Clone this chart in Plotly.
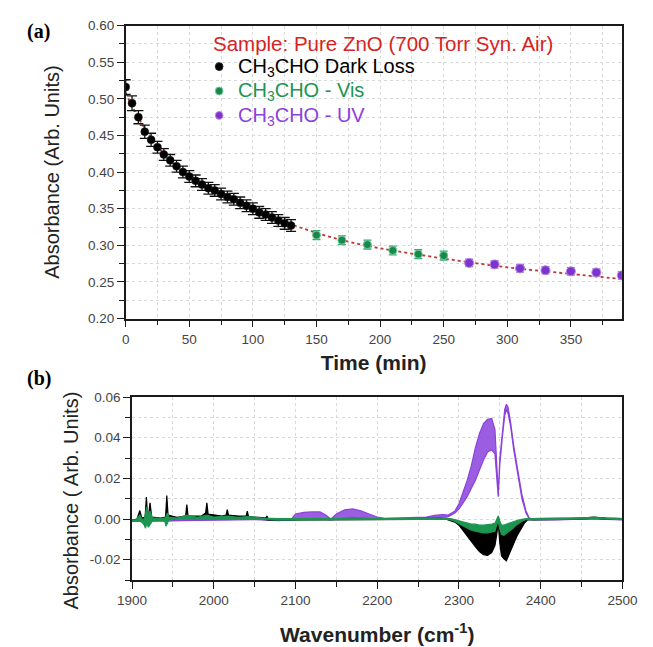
import plotly.graph_objects as go

# ---------------- Panel (a): kinetics data ----------------
t_dark = [0, 5, 10, 15, 20, 25, 30, 35, 40, 45, 50, 55, 60, 65, 70, 75, 80, 85, 90, 95,
          100, 105, 110, 115, 120, 125, 130]
a_dark = [0.516, 0.494, 0.475, 0.455, 0.444, 0.434, 0.424, 0.416, 0.408, 0.400, 0.394,
          0.388, 0.383, 0.378, 0.375, 0.370, 0.366, 0.363, 0.358, 0.354, 0.350, 0.345,
          0.342, 0.338, 0.334, 0.330, 0.327]
e_dark = [0.010, 0.010, 0.009, 0.009, 0.009, 0.008, 0.008, 0.008, 0.008, 0.008, 0.008,
          0.008, 0.008, 0.008, 0.008, 0.008, 0.008, 0.008, 0.008, 0.008, 0.008, 0.008,
          0.008, 0.008, 0.008, 0.008, 0.008]

t_vis = [150, 170, 190, 210, 230, 250]
a_vis = [0.314, 0.307, 0.301, 0.293, 0.288, 0.286]
e_vis = [0.006, 0.006, 0.006, 0.006, 0.006, 0.006]

t_uv = [270, 290, 310, 330, 350, 370, 390]
a_uv = [0.276, 0.274, 0.2685, 0.266, 0.2645, 0.263, 0.259]
e_uv = [0.005, 0.005, 0.005, 0.005, 0.005, 0.005, 0.005]

# fitted decay curve, sampled from the figure
t_fit = [0, 10, 20, 30, 40, 50, 60, 80, 100, 125, 150, 175, 200, 250, 300, 350, 390]
a_fit = [0.508, 0.474, 0.447, 0.425, 0.407, 0.393, 0.382, 0.364, 0.349, 0.332, 0.317,
         0.305, 0.296, 0.282, 0.270, 0.261, 0.254]

series_names = ["CH<sub>3</sub>CHO Dark Loss", "CH<sub>3</sub>CHO - Vis", "CH<sub>3</sub>CHO - UV"]
sample_label = "Sample: Pure ZnO (700 Torr Syn. Air)"

# ---------------- Panel (b): difference spectra (upper / lower envelope) ----------------
wn_uv = [1900, 1940, 1960, 2000, 2050, 2080, 2095, 2100, 2110, 2120, 2130, 2137, 2143, 2150,
         2160, 2170, 2180, 2190, 2200, 2210, 2240, 2260, 2270, 2280, 2287, 2295, 2300, 2305,
         2310, 2315, 2320, 2325, 2330, 2335, 2340, 2344, 2346, 2348, 2350, 2353, 2356, 2358,
         2360, 2363, 2367, 2372, 2377, 2382, 2386, 2390, 2420, 2450, 2470, 2500]
hi_uv = [-0.0008, -0.0005, -0.0003, 0.0, 0.0002, -0.0003, 0.0, 0.0025, 0.0033, 0.0035, 0.0035,
         0.002, 0.0, 0.0025, 0.0045, 0.005, 0.004, 0.0025, 0.001, 0.0003, 0.0005, 0.001, 0.0018,
         0.0022, 0.002, 0.004, 0.0075, 0.013, 0.019, 0.026, 0.035, 0.042, 0.047, 0.049, 0.0495,
         0.044, 0.03, 0.013, 0.03, 0.043, 0.054, 0.0565, 0.055, 0.048, 0.036, 0.024, 0.012,
         0.004, 0.0005, 0.0, 0.0, 0.0005, 0.0005, 0.0]
lo_uv = [-0.0012, -0.001, -0.0008, -0.0004, -0.0003, -0.0008, -0.0004, -0.0002, 0.0, 0.0, 0.0,
         -0.0002, -0.0004, 0.0, 0.0005, 0.0008, 0.0006, 0.0004, 0.0, -0.0002, 0.0, 0.0004,
         0.0008, 0.001, 0.0012, 0.003, 0.005, 0.008, 0.011, 0.015, 0.019, 0.024, 0.029, 0.033,
         0.034, 0.032, 0.022, 0.011, 0.027, 0.040, 0.051, 0.054, 0.052, 0.046, 0.034, 0.022,
         0.010, 0.003, 0.0, -0.0004, -0.0004, 0.0, 0.0, -0.0004]

wn_dark = [1900, 1906, 1909.5, 1912, 1916, 1917.5, 1919, 1920.5, 1922, 1924, 1935, 1941, 1942.5,
           1944, 1955, 1965.5, 1967, 1968.5, 1985, 1990, 1991.5, 1993, 2010, 2015, 2016.5, 2018,
           2030, 2039.5, 2041, 2042.5, 2055, 2063.5, 2065, 2066.5, 2080, 2100, 2150, 2200, 2250,
           2285, 2295, 2300, 2305, 2310, 2315, 2320, 2325, 2330, 2335, 2340, 2344, 2346, 2348,
           2350, 2352, 2355, 2358, 2361, 2364, 2368, 2372, 2376, 2380, 2384, 2390, 2420, 2450,
           2465, 2480, 2500]
hi_dark = [-0.0005, 0.0, 0.0042, 0.0005, 0.001, 0.0108, 0.002, 0.003, 0.008, 0.001, 0.0005,
           0.001, 0.0116, 0.002, 0.0008, 0.0015, 0.0071, 0.0015, 0.0015, 0.003, 0.008, 0.0025,
           0.0015, 0.002, 0.0047, 0.002, 0.0015, 0.0015, 0.0039, 0.0012, 0.0008, 0.0005, 0.0015,
           0.0, -0.0002, 0.0, 0.0, 0.0002, 0.0004, 0.0003, -0.0005, -0.0015, -0.0025, -0.0035,
           -0.004, -0.0045, -0.005, -0.005, -0.0045, -0.004, -0.0035, -0.002, 0.0008, -0.002,
           -0.005, -0.006, -0.006, -0.005, -0.004, -0.003, -0.002, -0.0012, -0.0004, 0.0002,
           0.0002, 0.0003, 0.0005, 0.001, 0.0005, 0.0003]
lo_dark = [-0.0012, -0.0008, -0.0005, -0.0005, -0.0003, 0.0, -0.0005, -0.0003, -0.0002, -0.0002,
           0.0, 0.0, 0.0, 0.0, 0.0003, 0.0005, 0.0005, 0.0005, 0.0006, 0.0008, 0.001, 0.0008,
           0.0006, 0.0008, 0.0008, 0.0008, 0.0006, 0.0005, 0.0005, 0.0004, 0.0, -0.0003, -0.0003,
           -0.0005, -0.0008, -0.0005, -0.0005, -0.0003, -0.0001, -0.0002, -0.0015, -0.003,
           -0.0055, -0.008, -0.011, -0.0135, -0.016, -0.0175, -0.0178, -0.0165, -0.013, -0.008,
           -0.002, -0.012, -0.018, -0.0195, -0.0205, -0.018, -0.015, -0.011, -0.0075, -0.0045,
           -0.002, -0.0004, -0.0002, -0.0002, 0.0, 0.0004, 0.0, -0.0002]

wn_vis = [1900, 1905, 1909.5, 1912, 1915, 1916.5, 1918, 1920, 1922, 1925, 1935, 1940, 1941.5,
          1943, 1945, 1955, 1967, 1980, 1991.5, 2000, 2016.5, 2030, 2041, 2060, 2080, 2100, 2150,
          2200, 2250, 2285, 2292, 2300, 2305, 2310, 2315, 2320, 2325, 2330, 2335, 2340, 2344,
          2346, 2348, 2350, 2352, 2355, 2358, 2362, 2366, 2370, 2374, 2378, 2382, 2386, 2390,
          2420, 2450, 2465, 2480, 2500]
hi_vis = [-0.0005, -0.0003, 0.002, 0.0, 0.0, 0.004, 0.006, 0.002, 0.004, 0.0005, 0.0003, 0.0005,
          0.001, 0.003, 0.001, 0.0005, 0.002, 0.0008, 0.002, 0.001, 0.0015, 0.0008, 0.0012,
          0.0005, 0.0002, 0.0002, 0.0002, 0.0003, 0.0004, 0.0004, 0.0, -0.001, -0.0015, -0.002,
          -0.0025, -0.0025, -0.003, -0.003, -0.0028, -0.0025, -0.002, 0.0, 0.0015, -0.001,
          -0.003, -0.003, -0.0025, -0.002, -0.0015, -0.0008, -0.0004, 0.0, 0.0002, 0.0002,
          0.0002, 0.0003, 0.0006, 0.0008, 0.0005, 0.0002]
lo_vis = [-0.0012, -0.001, -0.001, -0.0015, -0.003, -0.0045, -0.002, -0.004, -0.0025, -0.0008,
          -0.0005, -0.001, -0.0035, -0.0025, -0.0005, 0.0, 0.0, 0.0002, 0.0, 0.0002, 0.0002,
          0.0002, 0.0, -0.0002, -0.0005, -0.0004, -0.0003, -0.0002, 0.0, 0.0, -0.0006, -0.0025,
          -0.0035, -0.0045, -0.0055, -0.006, -0.0065, -0.0068, -0.0068, -0.0065, -0.006, -0.003,
          -0.001, -0.005, -0.0075, -0.008, -0.007, -0.0058, -0.0045, -0.003, -0.0018, -0.0008,
          -0.0003, -0.0002, -0.0003, -0.0003, 0.0, 0.0002, 0.0, -0.0003]

top_yticks = [0.20, 0.25, 0.30, 0.35, 0.40, 0.45, 0.50, 0.55, 0.60]
bot_yticks = [-0.02, 0.00, 0.02, 0.04, 0.06]
bot_yticktext = ["-0.02", "0.00", "0.02", "0.04", "0.06"]

# ---------------- styling ----------------
BLACK = "#000000"
GREEN = "#1b9550"
PURPLE = "#8b42dc"
RED = "#d42424"
FONT = "Liberation Sans, Arial, sans-serif"
W, H = 653, 647

fig = go.Figure()

# fit curve
fig.add_trace(go.Scatter(x=t_fit, y=a_fit, mode="lines", line_shape="spline",
                         line=dict(color="#c43232", width=1.8, dash="dot"),
                         showlegend=False, hoverinfo="skip", xaxis="x", yaxis="y"))

marker_styles = [
    dict(color=BLACK, size=8, line=dict(color="#222", width=0.5)),
    dict(color="#17884a", size=8, line=dict(color="#6cc894", width=1)),
    dict(color="#7d34cc", size=9, line=dict(color="#b88ae8", width=1)),
]
err_styles = [
    dict(color="#111", thickness=1.3, width=5),
    dict(color="#3aa776", thickness=1.3, width=4),
    dict(color="#a070d8", thickness=1.3, width=4),
]
for (tx, ay, ey), name, ms, es in zip([(t_dark, a_dark, e_dark), (t_vis, a_vis, e_vis),
                                       (t_uv, a_uv, e_uv)], series_names, marker_styles, err_styles):
    fig.add_trace(go.Scatter(
        x=tx, y=ay, mode="markers", xaxis="x", yaxis="y", name=name, showlegend=False,
        marker=ms, error_y=dict(type="data", array=ey, **es)))

# spectra (envelopes drawn as closed filled outlines)
for wn, hi, lo, col, fcol in [(wn_uv, hi_uv, lo_uv, PURPLE, "rgba(139,66,220,0.85)"),
                              (wn_dark, hi_dark, lo_dark, BLACK, BLACK),
                              (wn_vis, hi_vis, lo_vis, GREEN, GREEN)]:
    fig.add_trace(go.Scatter(
        x=list(wn) + list(wn[::-1]), y=list(hi) + list(lo[::-1]),
        mode="lines", fill="toself", fillcolor=fcol,
        line=dict(color=col, width=1.2), showlegend=False, hoverinfo="skip",
        xaxis="x2", yaxis="y2"))

# manual legend (title + three entries)
legend_colors = [BLACK, GREEN, PURPLE]
legend_y = [64, 89, 114]
annotations = [dict(text=sample_label, x=205 / W, y=1 - 37 / H, xref="paper", yref="paper",
                    xanchor="left", yanchor="middle", showarrow=False,
                    font=dict(family=FONT, size=20.5, color=RED))]
shapes = []
for name, col, ly, ms in zip(series_names, legend_colors, legend_y, marker_styles):
    annotations.append(dict(text=name, x=232 / W, y=1 - (ly - 2) / H, xref="paper", yref="paper",
                            xanchor="left", yanchor="middle", showarrow=False,
                            font=dict(family=FONT, size=20, color=col)))
    shapes.append(dict(type="circle", xref="paper", yref="paper",
                       x0=(214 - 4) / W, x1=(214 + 4) / W, y0=1 - (ly - 3 + 4) / H,
                       y1=1 - (ly - 3 - 4) / H, fillcolor=ms["color"],
                       line=dict(color=ms["line"]["color"], width=1)))

annotations += [
    dict(text="<b>(a)</b>", x=10 / W, y=1 - 25 / H, xref="paper", yref="paper",
         xanchor="left", yanchor="middle", showarrow=False,
         font=dict(family="Liberation Serif, Times New Roman, serif", size=20, color="#000")),
    dict(text="<b>(b)</b>", x=10 / W, y=1 - 380 / H, xref="paper", yref="paper",
         xanchor="left", yanchor="middle", showarrow=False,
         font=dict(family="Liberation Serif, Times New Roman, serif", size=20, color="#000")),
    # y-axis title of panel (b), placed like the original (slightly below the axis centre)
    dict(text="Absorbance ( Arb. Units)", x=59 / W, y=1 - 505 / H, xref="paper", yref="paper",
         xanchor="center", yanchor="middle", showarrow=False, textangle=-90,
         font=dict(family=FONT, size=20, color="#222")),
]

grid = dict(showgrid=True, gridcolor="#d9d9d9", griddash="dot", gridwidth=1)
axline = dict(showline=True, linecolor="#1a1a1a", linewidth=1.6, mirror=True,
              ticks="outside", tickcolor="#1a1a1a", tickwidth=1.4, ticklen=7,
              tickfont=dict(family=FONT, size=13.5, color="#444"), zeroline=False)

fig.update_layout(
    width=W, height=H, margin=dict(l=0, r=0, t=0, b=0),
    paper_bgcolor="white", plot_bgcolor="white", showlegend=False,
    font=dict(family=FONT, color="#222"),
    xaxis=dict(domain=[116 / W, 636 / W], anchor="y", range=[0, 390], dtick=50, tick0=0,
               minor=dict(dtick=25, ticks="outside", ticklen=5, tickcolor="#1a1a1a",
                          showgrid=True, gridcolor="#d9d9d9", griddash="dot"),
               title=dict(text="<b>Time (min)</b>", font=dict(size=21, color="#222"), standoff=10),
               **grid, **axline),
    yaxis=dict(domain=[1 - 319 / H, 1 - 19 / H], anchor="x", range=[0.2, 0.6],
               tickvals=top_yticks, tickformat=".2f",
               minor=dict(dtick=0.025, tick0=0.2, ticks="outside", ticklen=5, tickcolor="#1a1a1a",
                          showgrid=True, gridcolor="#d9d9d9", griddash="dot"),
               title=dict(text="Absorbance (Arb. Units)", font=dict(size=20, color="#222"), standoff=23),
               **grid, **axline),
    xaxis2=dict(domain=[122.7 / W, 636.7 / W], anchor="y2", range=[1900, 2500], dtick=100, tick0=1900,
                minor=dict(dtick=50, ticks="outside", ticklen=5, tickcolor="#1a1a1a",
                           showgrid=True, gridcolor="#d9d9d9", griddash="dot"),
                title=dict(text="<b>Wavenumber (cm<sup>-1</sup>)</b>", font=dict(size=21, color="#222"),
                           standoff=20),
                **grid, **axline),
    yaxis2=dict(domain=[1 - 586.7 / H, 1 - 399.3 / H], anchor="x2", range=[-0.03, 0.06],
                tickvals=bot_yticks, ticktext=bot_yticktext,
                minor=dict(dtick=0.01, tick0=0, ticks="outside", ticklen=5, tickcolor="#1a1a1a",
                           showgrid=True, gridcolor="#d9d9d9", griddash="dot"),
                **grid, **axline),
    annotations=annotations,
    shapes=shapes,
)

fig.write_html("out.html")
